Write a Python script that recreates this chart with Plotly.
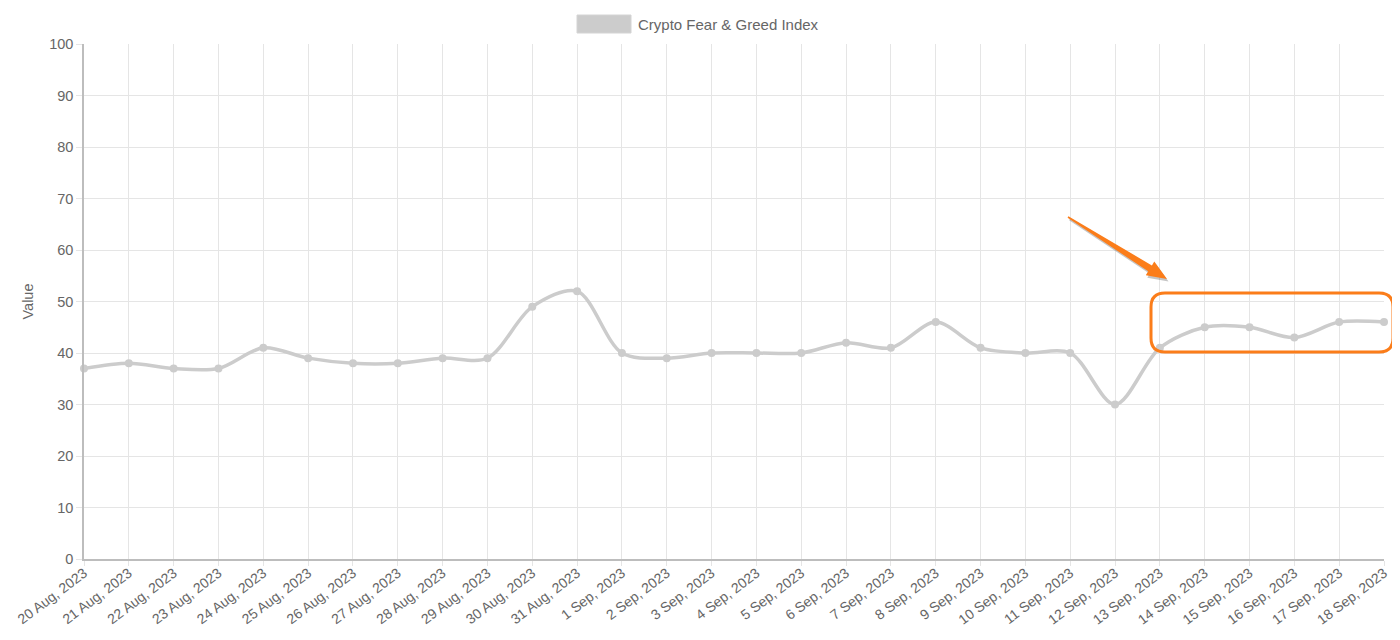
import plotly.graph_objects as go

dates = ["20 Aug, 2023", "21 Aug, 2023", "22 Aug, 2023", "23 Aug, 2023", "24 Aug, 2023",
         "25 Aug, 2023", "26 Aug, 2023", "27 Aug, 2023", "28 Aug, 2023", "29 Aug, 2023",
         "30 Aug, 2023", "31 Aug, 2023", "1 Sep, 2023", "2 Sep, 2023", "3 Sep, 2023",
         "4 Sep, 2023", "5 Sep, 2023", "6 Sep, 2023", "7 Sep, 2023", "8 Sep, 2023",
         "9 Sep, 2023", "10 Sep, 2023", "11 Sep, 2023", "12 Sep, 2023", "13 Sep, 2023",
         "14 Sep, 2023", "15 Sep, 2023", "16 Sep, 2023", "17 Sep, 2023", "18 Sep, 2023"]
values = [37, 38, 37, 37, 41, 39, 38, 38, 39, 39,
          49, 52, 40, 39, 40, 40, 40, 42, 41, 46,
          41, 40, 40, 30, 41, 45, 45, 43, 46, 46]
series_name = "Crypto Fear & Greed Index"

LINE = "#cccccc"
ORANGE = "#fb7d1a"
TXT = "#666666"
GRID = "#e5e5e5"
FONT = "Liberation Sans, Arial"

# page is rendered with an 8px body margin
OFF = 8
W, H = 1400 - 2 * OFF, 640 - 2 * OFF
# plot area in page pixels: x 84..1384, y 44..559
L = 84 - OFF
T = 44 - OFF
R = W - (1384 - OFF)
B = H - (559 - OFF)
pw, ph = W - L - R, H - T - B


def px(x):
    return (x - OFF - L) / pw


def py(y):
    return (H - B - (y - OFF)) / ph


fig = go.Figure()
fig.add_trace(go.Scatter(
    x=dates, y=values, mode="lines+markers", name=series_name,
    line=dict(color=LINE, width=3.5, shape="spline", smoothing=0.9),
    marker=dict(color=LINE, size=8), cliponaxis=False, showlegend=False,
))

# legend (Chart.js style box + label)
fig.add_shape(type="rect", xref="paper", yref="paper",
              x0=px(577), x1=px(631), y0=py(33), y1=py(15),
              fillcolor="#cccccc", line=dict(color="#d4d4d4", width=1))
fig.add_annotation(xref="paper", yref="paper", x=px(636), y=py(24),
                   text=series_name, showarrow=False, xanchor="left", yanchor="middle",
                   font=dict(size=15, color=TXT, family=FONT))

# highlight rounded rectangle
x0, x1, y0, y1 = px(1151), px(1393), py(352), py(293)
rx, ry = 14 / pw, 14 / ph
path = (f"M {x0+rx},{y1} L {x1-rx},{y1} Q {x1},{y1} {x1},{y1-ry} "
        f"L {x1},{y0+ry} Q {x1},{y0} {x1-rx},{y0} L {x0+rx},{y0} "
        f"Q {x0},{y0} {x0},{y0+ry} L {x0},{y1-ry} Q {x0},{y1} {x0+rx},{y1} Z")
fig.add_shape(type="path", xref="paper", yref="paper", path=path,
              line=dict(color=ORANGE, width=3))

# tapered arrow (polygon in page pixels)
tail = (1068.0, 217.0)
tip = (1167.0, 279.0)
dx, dy = tip[0] - tail[0], tip[1] - tail[1]
ln = (dx * dx + dy * dy) ** 0.5
ux, uy = dx / ln, dy / ln
nx, ny = -uy, ux
head_len, head_w, shaft_w0, shaft_w1 = 20, 8, 0.8, 3.5
bx, by = tip[0] - ux * head_len, tip[1] - uy * head_len
pts = [
    (tail[0] + nx * shaft_w0, tail[1] + ny * shaft_w0),
    (bx + nx * shaft_w1, by + ny * shaft_w1),
    (bx + nx * head_w, by + ny * head_w),
    tip,
    (bx - nx * head_w, by - ny * head_w),
    (bx - nx * shaft_w1, by - ny * shaft_w1),
    (tail[0] - nx * shaft_w0, tail[1] - ny * shaft_w0),
]


def poly(points, sx=0.0, sy=0.0):
    s = " L ".join(f"{px(a + sx)},{py(b + sy)}" for a, b in points)
    return "M " + s + " Z"


fig.add_shape(type="path", xref="paper", yref="paper", path=poly(pts, 1.5, 2.5),
              fillcolor="rgba(90,90,90,0.35)", line=dict(width=0))
fig.add_shape(type="path", xref="paper", yref="paper", path=poly(pts),
              fillcolor=ORANGE, line=dict(width=0))

fig.update_layout(
    width=W, height=H,
    margin=dict(l=L, r=R, t=T, b=B, autoexpand=False),
    paper_bgcolor="white", plot_bgcolor="white",
    font=dict(family=FONT, size=14.5, color=TXT),
    xaxis=dict(type="category", range=[0, len(dates) - 1], tickangle=-37,
               showgrid=True, gridcolor=GRID, gridwidth=1,
               showline=True, linecolor="#bdbdbd", linewidth=1.5,
               ticks="outside", ticklen=5, tickcolor=GRID, ticklabelstandoff=-6,
               tickfont=dict(size=14, color=TXT), zeroline=False),
    yaxis=dict(range=[0, 100], dtick=10, showgrid=True, gridcolor=GRID, gridwidth=1,
               showline=True, linecolor="#bdbdbd", linewidth=1.5,
               ticks="outside", ticklen=6, tickcolor=GRID,
               tickfont=dict(size=14.5, color=TXT), zeroline=False,
               title=dict(text="Value", font=dict(size=14.5, color=TXT), standoff=12)),
)

fig.write_html("out.html")
